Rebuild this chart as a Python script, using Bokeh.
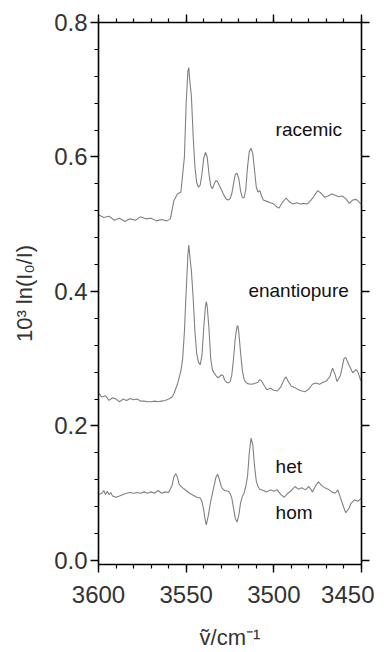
from bokeh.plotting import figure
from bokeh.models import Range1d, LinearAxis, FixedTicker, PrintfTickFormatter, Label, CustomJSTickFormatter
from bokeh.embed import file_html
from bokeh.resources import INLINE

# ---------------- data ----------------
rac_x = [3600, 3597, 3594, 3591, 3588, 3585, 3582, 3579, 3576, 3573, 3570, 3567, 3564, 3561, 3559,
         3557, 3555, 3553, 3551, 3550, 3549, 3548.5, 3548, 3547, 3546, 3545, 3544, 3543, 3542, 3541,
         3540, 3539, 3538, 3537, 3536, 3535, 3534, 3533, 3532, 3531, 3530, 3529, 3528, 3527, 3526,
         3525, 3524, 3523, 3522, 3521, 3520, 3519, 3518, 3517, 3516, 3515, 3514, 3513, 3512, 3511,
         3510, 3509, 3508, 3507, 3506, 3504, 3502, 3500, 3498, 3497, 3495, 3493, 3491, 3489, 3487,
         3485, 3483, 3481, 3479, 3477, 3475, 3473, 3471, 3469, 3467, 3465, 3463, 3461, 3459, 3457,
         3455, 3453, 3451, 3450]
rac_y = [0.514, 0.510, 0.512, 0.506, 0.509, 0.504, 0.508, 0.506, 0.511, 0.508, 0.509, 0.505, 0.507, 0.505, 0.508,
         0.535, 0.545, 0.548, 0.600, 0.680, 0.728, 0.733, 0.715, 0.690, 0.630, 0.585, 0.562, 0.555, 0.558, 0.575,
         0.598, 0.607, 0.600, 0.575, 0.557, 0.553, 0.560, 0.565, 0.563, 0.557, 0.552, 0.546, 0.541, 0.537, 0.536,
         0.538, 0.545, 0.560, 0.574, 0.576, 0.568, 0.550, 0.540, 0.539, 0.552, 0.585, 0.608, 0.613, 0.605, 0.580,
         0.555, 0.548, 0.550, 0.542, 0.536, 0.534, 0.532, 0.530, 0.525, 0.524, 0.533, 0.539, 0.533, 0.530, 0.532,
         0.530, 0.531, 0.530, 0.535, 0.542, 0.550, 0.546, 0.540, 0.542, 0.545, 0.543, 0.541, 0.542, 0.538, 0.531,
         0.536, 0.537, 0.532, 0.530]

ena_x = [3600, 3598, 3596, 3594, 3592, 3590, 3588, 3586, 3584, 3582, 3580, 3578, 3576, 3574, 3572,
         3570, 3568, 3566, 3564, 3562, 3560, 3558, 3557, 3556, 3555, 3554, 3553, 3552, 3551, 3550,
         3549, 3548.5, 3548, 3547, 3546, 3545, 3544, 3543, 3542, 3541, 3540, 3539, 3538.5, 3538, 3537,
         3536, 3535, 3534, 3533, 3532, 3531, 3530, 3529, 3528, 3527, 3526, 3525, 3524, 3523, 3522,
         3521, 3520.5, 3520, 3519, 3518, 3517, 3516, 3515, 3513, 3511, 3509, 3508, 3507, 3505, 3504,
         3502, 3500, 3498, 3496, 3494, 3493, 3492, 3490, 3488, 3486, 3484, 3482, 3480, 3478, 3476,
         3474, 3472, 3470, 3468, 3466.5, 3465, 3464, 3462, 3460, 3459, 3457, 3455, 3453, 3452, 3450.5,
         3450]
ena_y = [0.249, 0.243, 0.245, 0.238, 0.242, 0.240, 0.236, 0.240, 0.238, 0.241, 0.239, 0.240, 0.237, 0.237, 0.236,
         0.236, 0.237, 0.236, 0.237, 0.238, 0.240, 0.243, 0.248, 0.255, 0.262, 0.272, 0.282, 0.300, 0.340, 0.400,
         0.455, 0.469, 0.455, 0.430, 0.390, 0.340, 0.308, 0.295, 0.291, 0.305, 0.345, 0.378, 0.385, 0.378, 0.345,
         0.300, 0.283, 0.279, 0.275, 0.272, 0.273, 0.276, 0.275, 0.268, 0.265, 0.264, 0.266, 0.275, 0.300, 0.330,
         0.348, 0.349, 0.340, 0.310, 0.283, 0.270, 0.265, 0.263, 0.262, 0.263, 0.265, 0.269, 0.267, 0.258, 0.254,
         0.256, 0.253, 0.252, 0.258, 0.270, 0.273, 0.267, 0.259, 0.257, 0.254, 0.252, 0.251, 0.255, 0.262, 0.264,
         0.262, 0.265, 0.267, 0.274, 0.286, 0.276, 0.266, 0.275, 0.300, 0.302, 0.290, 0.279, 0.284, 0.280, 0.268,
         0.270]

dif_x = [3600, 3598, 3597, 3596, 3595, 3594, 3593, 3592, 3590, 3588, 3586, 3584, 3582, 3580, 3578,
         3576, 3574, 3572, 3570, 3568, 3566, 3564, 3562, 3560, 3558, 3557, 3556, 3555, 3554, 3552,
         3550, 3548, 3546, 3544, 3542, 3541, 3540, 3539, 3538.5, 3537.5, 3536, 3535, 3534, 3533, 3532,
         3531, 3530, 3529, 3528, 3526, 3525, 3524, 3523, 3522, 3521, 3520, 3519, 3518, 3517, 3516,
         3515, 3514, 3513, 3512, 3511, 3510, 3509, 3508, 3506, 3504, 3502, 3500, 3498, 3496, 3494,
         3492, 3490, 3488, 3486, 3484, 3482, 3480, 3478, 3476, 3474.5, 3473, 3471, 3469, 3467, 3465,
         3463.5, 3462, 3460, 3459, 3457, 3456, 3454, 3452, 3450]
dif_y = [0.098, 0.100, 0.104, 0.098, 0.103, 0.098, 0.101, 0.096, 0.094, 0.096, 0.098, 0.100, 0.101, 0.100, 0.101,
         0.100, 0.102, 0.100, 0.102, 0.100, 0.104, 0.100, 0.102, 0.101, 0.112, 0.124, 0.129, 0.124, 0.113, 0.108,
         0.104, 0.100, 0.097, 0.094, 0.093, 0.088, 0.075, 0.058, 0.053, 0.065, 0.088, 0.100, 0.112, 0.124, 0.128,
         0.120, 0.110, 0.106, 0.104, 0.103, 0.100, 0.093, 0.078, 0.063, 0.057, 0.067, 0.085, 0.095, 0.100, 0.110,
         0.125, 0.160, 0.182, 0.172, 0.140, 0.118, 0.110, 0.106, 0.104, 0.102, 0.105, 0.103, 0.105, 0.098, 0.094,
         0.100, 0.104, 0.110, 0.106, 0.108, 0.105, 0.110, 0.102, 0.112, 0.117, 0.112, 0.108, 0.106, 0.102, 0.100,
         0.105, 0.093, 0.078, 0.071, 0.078, 0.085, 0.090, 0.088, 0.093]

x_major = [3600, 3550, 3500, 3450]
x_minor = list(range(3450, 3601, 10))
y_major = [0.0, 0.2, 0.4, 0.6, 0.8]
y_minor = [round(i * 0.04, 2) for i in range(0, 21)]

FONT = "Liberation Sans"

p = figure(width=374, height=652, output_backend="svg", toolbar_location=None,
           x_range=Range1d(3600, 3450), y_range=Range1d(-0.006, 0.8),
           x_axis_location=None, y_axis_location=None,
           min_border_left=98, min_border_right=13, min_border_top=22, min_border_bottom=87)
p.grid.visible = False
p.outline_line_color = None
p.background_fill_color = "white"
p.border_fill_color = "white"

def style(ax, labels=True):
    ax.axis_line_color = "black"
    ax.axis_line_width = 1.6
    ax.major_tick_line_color = "black"
    ax.minor_tick_line_color = "black"
    ax.major_tick_line_width = 1.4
    ax.minor_tick_line_width = 1.2
    ax.major_tick_in = 0
    ax.major_tick_out = 8
    ax.minor_tick_in = 0
    ax.minor_tick_out = 4
    ax.major_label_text_font = FONT
    ax.major_label_text_font_size = "24px"
    ax.major_label_text_color = "#333333"
    if not labels:
        ax.formatter = CustomJSTickFormatter(code="return ''")

xb = LinearAxis(ticker=FixedTicker(ticks=x_major, minor_ticks=x_minor),
                formatter=PrintfTickFormatter(format="%d"))
style(xb)
xb.major_label_standoff = 13
xb.axis_label = "ṽ/cm⁻¹"
xb.axis_label_text_font = FONT
xb.axis_label_text_font_size = "22px"
xb.axis_label_text_font_style = "normal"
xb.axis_label_text_color = "#333333"
xb.axis_label_standoff = 19
p.add_layout(xb, "below")

xt = LinearAxis(ticker=FixedTicker(ticks=x_major, minor_ticks=x_minor))
style(xt, labels=False)
p.add_layout(xt, "above")

yl = LinearAxis(ticker=FixedTicker(ticks=y_major, minor_ticks=y_minor),
                formatter=PrintfTickFormatter(format="%.1f"))
style(yl)
yl.major_label_standoff = 3
yl.axis_label = "10³ ln(I₀/I)"
yl.axis_label_text_font = FONT
yl.axis_label_text_font_size = "22px"
yl.axis_label_text_font_style = "normal"
yl.axis_label_text_color = "#333333"
yl.axis_label_standoff = 14
p.add_layout(yl, "left")

yr = LinearAxis(ticker=FixedTicker(ticks=y_major, minor_ticks=y_minor))
style(yr, labels=False)
p.add_layout(yr, "right")

for xs, ys in [(rac_x, rac_y), (ena_x, ena_y), (dif_x, dif_y)]:
    p.line(x=xs, y=ys, line_color="#808080", line_width=1.1)

for txt, lx, ly in [("racemic", 3499, 0.641), ("enantiopure", 3514.5, 0.401),
                    ("het", 3499, 0.1395), ("hom", 3499, 0.0712)]:
    p.add_layout(Label(x=lx, y=ly, text=txt, text_font=FONT, text_font_size="19px",
                       text_color="#111111", text_align="left", text_baseline="middle"))

open("out.html", "w").write(file_html(p, INLINE))
